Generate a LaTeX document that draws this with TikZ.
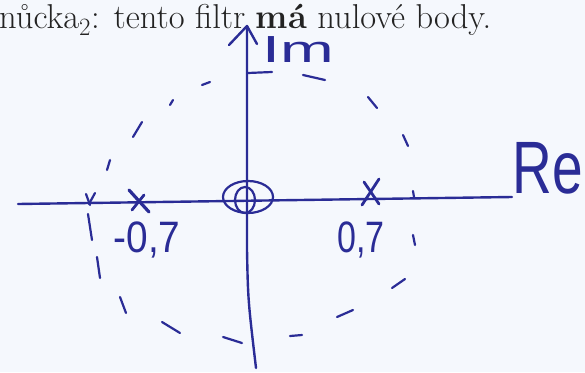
\documentclass[tikz,border=0pt]{standalone}
\usepackage{fontspec}
\newfontfamily\handfont{Liberation Sans}
\definecolor{pen}{RGB}{42,44,150}
\definecolor{paper}{RGB}{245,248,253}
\definecolor{ink}{RGB}{35,35,35}
\tikzset{
  penline/.style={draw=pen, line width=2.4pt, line cap=round, line join=round},
  dashmark/.style={draw=pen, line width=2.2pt, line cap=round},
  handlabel/.style={text=pen, inner sep=0pt, font=\handfont\fontsize{40}{40}\selectfont}
}
\begin{document}
\begin{tikzpicture}[x=1pt,y=-1pt]
\fill[paper] (0,0) rectangle (585,372);
\useasboundingbox (0,0) rectangle (585,372);
\begin{scope}
\clip (0,0) rectangle (585,372);
% printed text
\node[anchor=base west, inner sep=0pt, text=ink, font=\fontsize{34.5}{36}\selectfont] (title) at (-1,28)
  {nůcka$_2$: tento filtr \textbf{má} nulové body.};
% axes
\coordinate (xl) at (18,204);
\coordinate (xr) at (512,197);
\coordinate (yt) at (247,26);
\coordinate (ym) at (247,250);
\coordinate (yb) at (256,368);
\draw[penline] (xl) -- (xr);
\draw[penline] (yt) -- (ym) .. controls (248,300) .. (yb);
% arrow head of Im axis
\coordinate (ah1) at (229,45);
\coordinate (ah2) at (257,44);
\draw[penline] (ah1) -- (yt) -- (ah2);
% axis labels
\node[handlabel, font=\handfont\fontsize{46}{46}\selectfont] (im) at (298,50) {\scalebox{1.4}[0.82]{Im}};
\node[handlabel, font=\handfont\fontsize{55}{55}\selectfont] (re) at (548,168) {\scalebox{1}[1.35]{Re}};
% dashed unit circle (hand drawn dashes)
\foreach \a/\b in {
  {248,73}/{272,72}, {303,75}/{325,80}, {368,97}/{377,108}, {403,135}/{408,146},
  {413,191}/{414,197}, {413,235}/{415,245}, {392,288}/{405,279}, {337,317}/{353,310},
  {290,336}/{302,335}, {223,337}/{242,343}, {162,322}/{180,333}, {120,297}/{126,313},
  {97,257}/{100,278}, {88,214}/{92,240}, {107,170}/{110,160}, {133,137}/{142,122},
  {170,105}/{173,100}, {202,85}/{210,82}, {86,194}/{90,205}, {95,193}/{89,204}}
  \draw[dashmark] (\a) -- (\b);
% double zero at origin
\coordinate (o) at (247,199);
\draw[penline, line width=2.2pt] (245,200) ellipse [x radius=10, y radius=13];
\draw[penline, line width=2.2pt] (248,197) ellipse [x radius=25, y radius=16];
% poles
\coordinate (pl) at (139,201);
\coordinate (pr) at (371,193);
\draw[penline, line width=3.2pt] (129,190) -- (149,212);
\draw[penline, line width=2.8pt] (144,195) -- (132,210);
\draw[penline, line width=2.8pt] (364,182) -- (379,204);
\draw[penline, line width=2.8pt] (379,179) -- (362,205);
% pole labels
\node[handlabel] (ml) at (147,240) {\scalebox{0.97}[1.1]{-0,7}};
\node[handlabel] (pl7) at (361,240) {\scalebox{0.85}[1.1]{0,7}};
\end{scope}
\end{tikzpicture}
\end{document}
